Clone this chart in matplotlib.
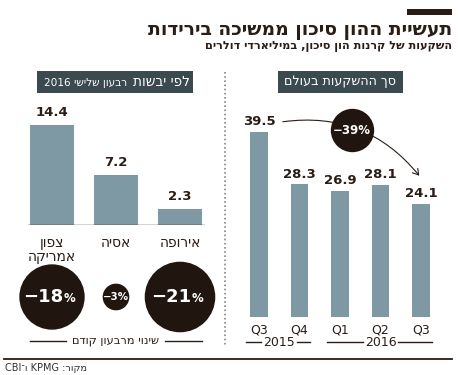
import re
import matplotlib
matplotlib.use("Agg")
from matplotlib import pyplot as plt
from matplotlib.patches import FancyArrowPatch, Rectangle

# data
regions = ["צפון\nאמריקה", "אסיה", "אירופה"]
region_values = [14.4, 7.2, 2.3]
region_change = [-18, -3, -21]

quarters = ["Q3", "Q4", "Q1", "Q2", "Q3"]
years = ["2015", "2016"]
year_span = [(0, 1), (2, 4)]
world_values = [39.5, 28.3, 26.9, 28.1, 24.1]
world_change = -39

DARK = "#2a1d15"
BAR = "#7f99a4"
BOX = "#3a4a4e"
W, H = 458, 375


def heb(s):
    # matplotlib has no bidi: reverse Hebrew, keep latin/digit runs LTR
    out = []
    for line in s.split("\n"):
        parts = re.findall(r"[A-Za-z0-9]+|[^A-Za-z0-9]", line)
        out.append("".join(reversed(parts)))
    return "\n".join(out)


def fx(px):
    return px / W


def fy(py):
    return 1 - py / H


fig = plt.figure(figsize=(W / 100, H / 100), dpi=100)
fig.patch.set_facecolor("white")

# overlay for decorations in pixel coords
deco = fig.add_axes([0, 0, 1, 1])
deco.set_xlim(0, W)
deco.set_ylim(H, 0)
deco.axis("off")

deco.add_patch(Rectangle((407, 9), 45, 6, color=DARK, lw=0))
deco.text(452, 30, heb("תעשיית ההון סיכון ממשיכה בירידות"), ha="right", va="center",
          fontsize=13.5, fontweight="bold", color=DARK)
deco.text(452, 47, heb("השקעות של קרנות הון סיכון, במיליארדי דולרים"), ha="right", va="center",
          fontsize=8.1, fontweight="bold", color=DARK)

# panel headers
deco.add_patch(Rectangle((37, 71), 156, 22, color=BOX, lw=0))
deco.text(190, 82, heb("לפי יבשות"), ha="right", va="center", fontsize=9.8,
          color="white")
deco.text(127, 83, heb("רבעון שלישי 2016"), ha="right", va="center", fontsize=7.6,
          color="white")
deco.add_patch(Rectangle((278, 71), 125, 22, color=BOX, lw=0))
deco.text(340.5, 82, heb("סך ההשקעות בעולם"), ha="center", va="center", fontsize=9.2,
          color="white")

# separator and bottom rule
deco.plot([225, 225], [72, 347], color="#888888", lw=1.2, ls=(0, (1, 1.5)))
deco.plot([4, 452], [359, 359], color=DARK, lw=1.3)
deco.text(5, 368, heb("מקור: KPMG ו־CBI"), ha="left", va="center", fontsize=7,
          color="#333333")

# left panel: by continent
axl = fig.add_axes([fx(20), fy(225), fx(192), 120 / H])
axl.set_xlim(-0.5, 2.5)
axl.set_ylim(0, 14.4 * 120 / 100)
axl.axis("off")
xl = range(len(regions))
axl.bar(xl, region_values, width=0.69, color=BAR)
axl.axhline(0, xmin=8 / 192, xmax=184 / 192, color=DARK, lw=1)
for i, v in enumerate(region_values):
    axl.annotate(f"{v}", (i, v), xytext=(0, 9), textcoords="offset points",
                 ha="center", va="center", fontsize=9.5, fontweight="bold", color=DARK)
    axl.annotate(heb(regions[i]), (i, 0), xytext=(0, -8), textcoords="offset points",
                 ha="center", va="top", fontsize=10, color=DARK, linespacing=0.95)

tr = axl.get_xaxis_transform()
sizes = [123 * abs(c) for c in region_change]
axl.scatter(list(xl), [-0.6] * 3, s=sizes, color="#21160f", transform=tr, clip_on=False,
            lw=0)
for i, c in enumerate(region_change):
    if abs(c) >= 10:
        axl.annotate(f"−{abs(c)}", (i, -0.6), xycoords=tr, xytext=(8, 0),
                     textcoords="offset points", ha="right", va="center",
                     fontsize=13, fontweight="bold", color="white")
        axl.annotate("%", (i, -0.6), xycoords=tr, xytext=(8.5, -1),
                     textcoords="offset points", ha="left", va="center",
                     fontsize=8.5, fontweight="bold", color="white")
    else:
        axl.annotate(f"−{abs(c)}%", (i, -0.6), xycoords=tr, ha="center", va="center",
                     fontsize=7.4, fontweight="bold", color="white")

deco.text(116, 341, heb("שינוי מרבעון קודם"), ha="center", va="center", fontsize=8.2,
          color=DARK)
deco.plot([30, 66], [341, 341], color=DARK, lw=1)
deco.plot([165, 202], [341, 341], color=DARK, lw=1)

# right panel: world total
axr = fig.add_axes([fx(238.75), fy(317), fx(202.5), 200 / H])
axr.set_xlim(-0.5, 4.5)
axr.set_ylim(0, 200 / (185 / 39.5))
axr.axis("off")
xr = range(len(quarters))
axr.bar(xr, world_values, width=0.44, color=BAR)
for i, v in enumerate(world_values):
    axr.annotate(f"{v}", (i, v), xytext=(0, 7.5), textcoords="offset points",
                 ha="center", va="center", fontsize=9.5, fontweight="bold", color=DARK)
trr = axr.get_xaxis_transform()
for i, q in enumerate(quarters):
    axr.text(i, -0.065, q, transform=trr, ha="center", va="center", fontsize=9,
             color=DARK)
for yname, (a, b) in zip(years, year_span):
    mid = (a + b) / 2
    axr.text(mid, -0.125, yname, transform=trr, ha="center", va="center", fontsize=9,
             color=DARK)
    half = 0.45 if b - a == 1 else 0.42
    axr.plot([a - 0.32, mid - half], [-0.125, -0.125], transform=trr, color=DARK, lw=1,
             clip_on=False)
    axr.plot([mid + half, b + 0.27], [-0.125, -0.125], transform=trr, color=DARK, lw=1,
             clip_on=False)

# change arrow
arr = FancyArrowPatch((0.52, world_values[0] + 2.1), (4.0, world_values[-1] + 5.6),
                      connectionstyle="arc3,rad=-0.29", arrowstyle="->,head_length=4,head_width=2.5",
                      color=DARK, lw=0.8, clip_on=False)
axr.add_patch(arr)
axr.scatter([2.3], [world_values[0] + 0.4], s=975, color="#21160f", lw=0, zorder=3,
            clip_on=False)
axr.text(2.3, world_values[0] + 0.4, f"−{abs(world_change)}%", ha="center", va="center",
         fontsize=8.5, fontweight="bold", color="white", zorder=4)

fig.savefig("out.png", dpi=100)
